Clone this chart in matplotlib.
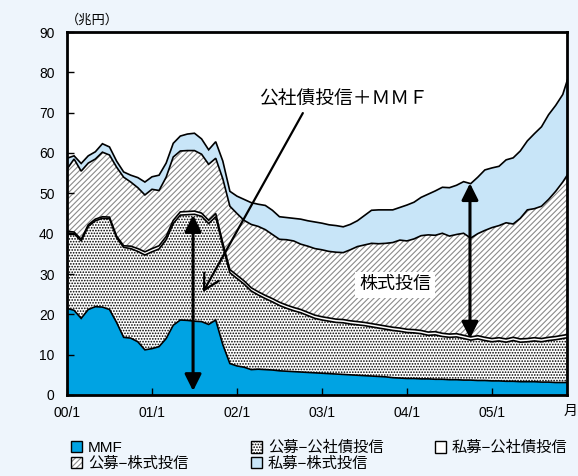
import numpy as np
import matplotlib
matplotlib.use('Agg')
import matplotlib.pyplot as plt
from matplotlib.patches import Patch

plt.rcParams['font.family'] = ['Liberation Sans', 'Noto Sans CJK JP']
plt.rcParams['hatch.linewidth'] = 0.8

# ---------------- data (兆円, monthly from 2000/1) ----------------
x_tick_pos = [0, 12, 24, 36, 48, 60]
x_tick_labels = ['00/1', '01/1', '02/1', '03/1', '04/1', '05/1']
y_ticks = [0, 10, 20, 30, 40, 50, 60, 70, 80, 90]

labels = ['MMF', '公募−公社債投信', '私募−公社債投信', '公募−株式投信', '私募−株式投信']

mmf = [21.5, 21.0, 19.0, 21.2, 21.9, 21.8, 21.2, 18.0, 14.3, 14.1, 13.2, 11.2,
       11.5, 12.0, 14.0, 17.3, 18.6, 18.5, 18.3, 18.2, 17.5, 18.6, 12.5, 7.8,
       7.2, 6.9, 6.3, 6.4, 6.3, 6.2, 6.0, 5.9, 5.8, 5.7, 5.6, 5.5,
       5.4, 5.3, 5.2, 5.1, 5.0, 4.9, 4.8, 4.7, 4.6, 4.5, 4.3, 4.2,
       4.1, 4.1, 4.0, 4.0, 3.9, 3.9, 3.8, 3.8, 3.7, 3.7, 3.6, 3.6,
       3.5, 3.5, 3.4, 3.4, 3.3, 3.3, 3.3, 3.2, 3.2, 3.1, 3.1, 3.1]

pub_bond = [18.7, 19.0, 19.2, 20.6, 21.3, 22.0, 22.5, 21.0, 22.3, 22.2, 22.4, 23.5,
            24.0, 24.2, 24.5, 25.2, 26.0, 26.2, 26.5, 26.1, 25.0, 25.6, 24.4, 22.5,
            21.7, 20.6, 19.5, 18.4, 17.6, 16.9, 16.2, 15.6, 15.1, 14.7, 14.1, 13.5,
            13.2, 13.0, 12.8, 12.8, 12.6, 12.5, 12.4, 12.2, 12.0, 11.8, 11.7, 11.6,
            11.4, 11.3, 11.2, 10.8, 11.0, 10.6, 10.5, 10.6, 10.3, 9.9, 10.3, 9.9,
            9.7, 9.9, 9.7, 10.1, 9.8, 9.9, 10.1, 10.0, 10.3, 10.6, 10.9, 11.2]

priv_bond = [0.4, 0.4, 0.4, 0.4, 0.4, 0.4, 0.4, 0.4, 0.4, 0.6, 0.7, 0.8,
             0.8, 0.8, 0.8, 0.8, 0.8, 0.8, 0.8, 0.8, 0.8, 0.8, 0.8, 0.8,
             0.8, 0.8, 0.8, 0.8, 0.8, 0.8, 0.8, 0.8, 0.8, 0.8, 0.8, 0.8,
             0.8, 0.8, 0.8, 0.8, 0.8, 0.8, 0.8, 0.8, 0.8, 0.8, 0.8, 0.8,
             0.8, 0.8, 0.8, 0.8, 0.8, 0.8, 0.8, 0.8, 0.8, 0.8, 0.8, 0.8,
             0.8, 0.8, 0.8, 0.8, 0.8, 0.8, 0.8, 0.8, 0.8, 0.8, 0.8, 0.8]

pub_stock = [15.4, 18.1, 16.9, 15.3, 14.9, 16.0, 15.4, 17.1, 17.0, 15.9, 15.1, 14.1,
             14.7, 13.7, 14.7, 15.7, 15.1, 15.1, 15.0, 14.6, 13.9, 13.7, 15.9, 15.7,
             15.3, 15.0, 15.7, 16.2, 16.3, 15.9, 15.6, 16.2, 16.5, 16.2, 16.4, 16.5,
             16.6, 16.5, 16.6, 16.6, 17.6, 18.6, 19.2, 19.9, 20.1, 20.5, 21.0, 21.8,
             21.9, 22.5, 23.5, 24.1, 23.9, 24.8, 24.3, 24.6, 25.3, 24.5, 25.3, 26.5,
             27.5, 27.8, 28.8, 28.1, 29.9, 31.9, 32.0, 32.8, 34.2, 36.0, 38.0, 40.4]

priv_stock = [2.7, 0.8, 1.9, 1.8, 1.8, 2.1, 2.0, 1.5, 1.3, 1.7, 2.5, 3.2,
              3.1, 3.8, 3.5, 3.4, 3.7, 4.1, 4.3, 3.8, 3.6, 4.1, 4.4, 3.7,
              4.3, 5.2, 5.4, 5.5, 6.0, 6.0, 5.6, 5.5, 5.6, 6.2, 6.3, 6.6,
              6.6, 6.6, 6.6, 6.4, 6.3, 6.4, 7.3, 8.2, 8.4, 8.3, 8.1, 8.1,
              8.9, 9.1, 9.5, 10.1, 11.0, 11.4, 12.0, 12.2, 12.8, 13.5, 14.0, 15.0,
              14.8, 14.7, 15.6, 16.4, 16.7, 17.1, 18.6, 19.7, 21.0, 21.3, 21.7, 24.5]

# ---------------- styling ----------------
BG = '#eef5fc'
MMF_C = '#00a3e3'
LB_C = '#c8e5f8'
HATCH_GRAY = '#8a8a8a'
DOTS = '......'
DIAG = '//////'

x = np.arange(len(mmf))
c1 = np.array(mmf)
c2 = c1 + np.array(pub_bond)
c3 = c2 + np.array(priv_bond)
c4 = c3 + np.array(pub_stock)
c5 = c4 + np.array(priv_stock)

W, H = 578, 476
fig = plt.figure(figsize=(W / 100, H / 100), dpi=100, facecolor=BG)
ax = fig.add_axes([67 / W, 1 - 395 / H, 500 / W, 363 / H])
ax.set_facecolor('white')

ax.fill_between(x, 0, c1, facecolor=MMF_C, edgecolor='none', lw=0)
ax.fill_between(x, c1, c2, facecolor='white', edgecolor='black', hatch=DOTS, lw=0)
ax.fill_between(x, c2, c3, facecolor='white', edgecolor='none', lw=0)
ax.fill_between(x, c3, c4, facecolor='white', edgecolor=HATCH_GRAY, hatch=DIAG, lw=0)
ax.fill_between(x, c4, c5, facecolor=LB_C, edgecolor='none', lw=0)
for c in (c1, c2, c3, c4, c5):
    ax.plot(x, c, color='black', lw=1.2, solid_joinstyle='miter')

ax.set_xlim(0, 70.6)
ax.set_ylim(0, 90)
ax.set_xticks(x_tick_pos, x_tick_labels)
ax.set_yticks(y_ticks)
ax.tick_params(direction='in', length=5, width=1, labelsize=10, colors='black')
ax.tick_params(axis='x', pad=8)
ax.tick_params(axis='y', pad=9)
for s in ax.spines.values():
    s.set_linewidth(2)
    s.set_color('black')

# annotations
ax.annotate('', xy=(17.8, 1.0), xytext=(17.8, 44.6),
            arrowprops=dict(arrowstyle='<|-|>,head_length=0.5,head_width=0.25',
                            lw=2.2, color='black', shrinkA=0, shrinkB=0,
                            mutation_scale=20))
ax.annotate('', xy=(56.9, 14.0), xytext=(56.9, 52.5),
            arrowprops=dict(arrowstyle='<|-|>,head_length=0.5,head_width=0.25',
                            lw=2.2, color='black', shrinkA=0, shrinkB=0,
                            mutation_scale=20))
ax.annotate('', xy=(19.2, 25.5), xytext=(33.3, 69.9),
            arrowprops=dict(arrowstyle='->,head_length=0.55,head_width=0.3',
                            lw=1.6, color='black', shrinkA=0, shrinkB=0,
                            mutation_scale=20))
ax.text(39.0, 73.1, '公社債投信＋ＭＭＦ', fontsize=13.5, ha='center', va='center')
ax.text(46.3, 27.3, '株式投信', fontsize=13, ha='center', va='center',
        bbox=dict(facecolor='white', edgecolor='none', pad=3))

fig.text(92 / W, 1 - 20 / H, '（兆円）', fontsize=9.5, ha='center', va='center')
fig.text(571 / W, 1 - 411 / H, '月', fontsize=10, ha='center', va='center')

# legend
def box():
    return Patch(facecolor='none', edgecolor='black', lw=1.0)

h_mmf = (Patch(facecolor=MMF_C, edgecolor='none', lw=0), box())
h_pb = (Patch(facecolor='white', edgecolor='black', hatch=DOTS, lw=0), box())
h_vb = (Patch(facecolor='white', edgecolor='none', lw=0), box())
h_ps = (Patch(facecolor='white', edgecolor=HATCH_GRAY, hatch=DIAG, lw=0), box())
h_vs = (Patch(facecolor=LB_C, edgecolor='none', lw=0), box())

common = dict(loc='upper left', frameon=False, fontsize=11, handlelength=0.75,
              handleheight=0.75, handletextpad=0.35, labelspacing=0.1,
              borderpad=0, borderaxespad=0)
groups = [([h_mmf, h_ps], [labels[0], labels[3]], 71),
          ([h_pb, h_vs], [labels[1], labels[4]], 251),
          ([h_vb], [labels[2]], 435)]
for hs, ls, px in groups:
    fig.legend(hs, ls, bbox_to_anchor=(px / W, 1 - 441 / H), **common)

fig.savefig('out.png', dpi=100, facecolor=BG)
